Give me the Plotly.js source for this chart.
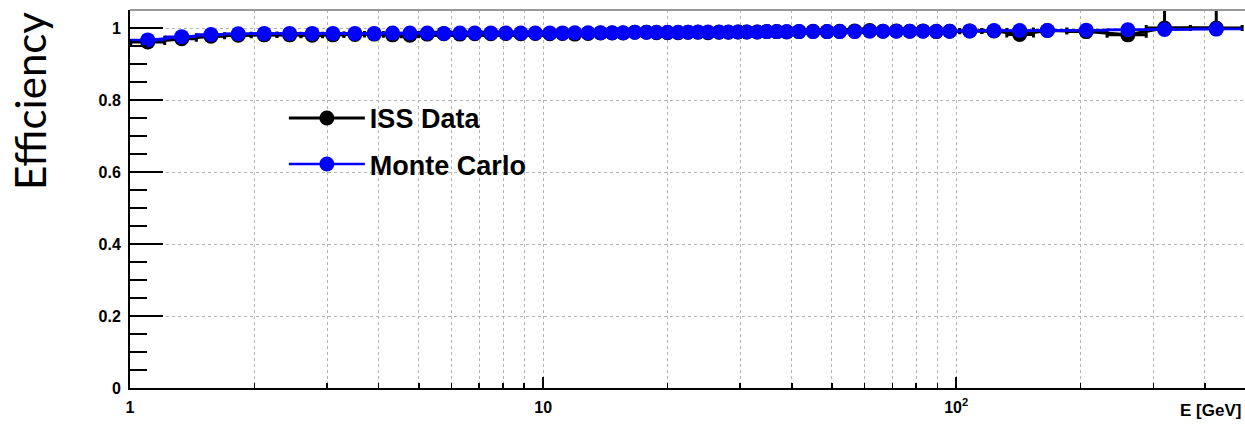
<!DOCTYPE html>
<html>
<head>
<meta charset="utf-8">
<script src="https://cdn.plot.ly/plotly-3.0.1.min.js"></script>
<style>html,body{margin:0;padding:0;background:#fff;}#chart{width:1245px;height:428px;}</style>
</head>
<body>
<div id="chart"></div>
<script>
// Energy bin centres [GeV]
const energy = [1.104, 1.334, 1.570, 1.828, 2.113, 2.435, 2.761, 3.098, 3.503, 3.900,
  4.321, 4.759, 5.241, 5.751, 6.288, 6.834, 7.472, 8.124, 8.831, 9.574,
  10.38, 11.14, 11.93, 12.85, 13.77, 14.69, 15.62, 16.67, 17.79, 18.81,
  20.0, 21.22, 22.43, 23.71, 25.07, 26.66, 28.09, 29.64, 31.12, 32.99,
  34.78, 36.77, 38.88, 41.64, 45.02, 48.68, 52.24, 56.79, 61.73, 66.48,
  71.62, 77.15, 83.08, 89.49, 96.4, 107.8, 123.4, 142.4, 166.2, 206.4,
  260.3, 319.3, 426.0];
// ISS data efficiency
const issData = [0.961, 0.970, 0.977, 0.980, 0.981, 0.981, 0.980, 0.981, 0.982, 0.983,
  0.981, 0.980, 0.983, 0.984, 0.983, 0.984, 0.984, 0.985, 0.984, 0.985,
  0.984, 0.985, 0.983, 0.985, 0.986, 0.986, 0.986, 0.988, 0.988, 0.987,
  0.987, 0.987, 0.988, 0.988, 0.987, 0.988, 0.988, 0.989, 0.989, 0.989,
  0.990, 0.990, 0.989, 0.990, 0.991, 0.990, 0.991, 0.992, 0.993, 0.991,
  0.992, 0.991, 0.992, 0.990, 0.991, 0.992, 0.992, 0.982, 0.993, 0.990,
  0.981, 1.000, 1.000];
const issErrUp = [0.003, 0.002, 0.002, 0.002, 0.002, 0.002, 0.002, 0.002, 0.002, 0.002,
  0.002, 0.002, 0.002, 0.002, 0.002, 0.002, 0.002, 0.002, 0.002, 0.002,
  0.002, 0.002, 0.002, 0.002, 0.002, 0.002, 0.002, 0.002, 0.002, 0.002,
  0.002, 0.002, 0.002, 0.002, 0.002, 0.002, 0.002, 0.002, 0.002, 0.002,
  0.002, 0.002, 0.002, 0.002, 0.002, 0.002, 0.002, 0.002, 0.002, 0.002,
  0.002, 0.002, 0.003, 0.003, 0.003, 0.003, 0.004, 0.005, 0.005, 0.006,
  0.008, 0.060, 0.060];
const issErrDown = [0.003, 0.002, 0.002, 0.002, 0.002, 0.002, 0.002, 0.002, 0.002, 0.002,
  0.002, 0.002, 0.002, 0.002, 0.002, 0.002, 0.002, 0.002, 0.002, 0.002,
  0.002, 0.002, 0.002, 0.002, 0.002, 0.002, 0.002, 0.002, 0.002, 0.002,
  0.002, 0.002, 0.002, 0.002, 0.002, 0.002, 0.002, 0.002, 0.002, 0.002,
  0.002, 0.002, 0.002, 0.002, 0.002, 0.002, 0.002, 0.002, 0.002, 0.002,
  0.002, 0.002, 0.003, 0.003, 0.003, 0.003, 0.004, 0.005, 0.005, 0.006,
  0.008, 0.010, 0.012];
// Monte Carlo efficiency
const monteCarlo = [0.967, 0.976, 0.982, 0.984, 0.985, 0.985, 0.985, 0.985, 0.985, 0.985,
  0.986, 0.986, 0.986, 0.985, 0.986, 0.986, 0.986, 0.986, 0.986, 0.986,
  0.986, 0.986, 0.987, 0.987, 0.987, 0.987, 0.987, 0.988, 0.988, 0.988,
  0.988, 0.988, 0.988, 0.989, 0.989, 0.989, 0.989, 0.989, 0.989, 0.989,
  0.990, 0.990, 0.990, 0.990, 0.990, 0.990, 0.990, 0.990, 0.991, 0.991,
  0.991, 0.991, 0.991, 0.991, 0.991, 0.992, 0.993, 0.993, 0.993, 0.994,
  0.995, 0.996, 0.997];
const seriesNames = ["ISS Data", "Monte Carlo"];
const xTickVals = [1, 10, 100];
const xTickText = ["1", "10", "10<sup>2</sup>"];
const xMinorVals = [2,3,4,5,6,7,8,9,20,30,40,50,60,70,80,90,200,300,400,500];
const yTickVals = [0, 0.2, 0.4, 0.6, 0.8, 1.0];

// bin edges (geometric midpoints) -> horizontal error bars
const n = energy.length;
const edges = [];
for (let i = 1; i < n; i++) edges.push(Math.sqrt(energy[i-1]*energy[i]));
const lo = energy.map((x, i) => i === 0 ? x*x/edges[0] : edges[i-1]);
const hi = energy.map((x, i) => i === n-1 ? x*x/edges[n-2] : edges[i]);
const exMinus = energy.map((x, i) => x - lo[i]);
const exPlus = energy.map((x, i) => hi[i] - x);

const traces = [
  {
    x: energy, y: issData, name: seriesNames[0], type: 'scatter', mode: 'lines+markers',
    line: {color: '#000000', width: 3},
    marker: {color: '#000000', size: 15, symbol: 'circle'},
    error_x: {type: 'data', symmetric: false, array: exPlus, arrayminus: exMinus, color: '#000000', thickness: 3, width: 3},
    error_y: {type: 'data', symmetric: false, array: issErrUp, arrayminus: issErrDown, color: '#000000', thickness: 3, width: 0},
    legendgroup: 'a'
  },
  {
    x: energy, y: monteCarlo, name: seriesNames[1], type: 'scatter', mode: 'lines+markers',
    line: {color: '#0000ff', width: 2.5},
    marker: {color: '#0000ff', size: 15, symbol: 'circle'},
    error_x: {type: 'data', symmetric: false, array: exPlus, arrayminus: exMinus, color: '#0000ff', thickness: 2.5, width: 0},
    legendgroup: 'b'
  }
];

const gridColor = '#b4b4b4';
const tickFont = {family: 'Liberation Sans, Arial, sans-serif', size: 16, color: '#000', weight: 'bold'};
const layout = {
  width: 1245, height: 428,
  margin: {l: 130, r: 0, t: 10, b: 40, pad: 0},
  paper_bgcolor: '#ffffff', plot_bgcolor: '#ffffff',
  showlegend: true,
  legend: {
    x: 0.138, xanchor: 'left', y: 0.778, yanchor: 'top',
    bgcolor: 'rgba(0,0,0,0)', borderwidth: 0,
    font: {family: 'Liberation Sans, Arial, sans-serif', size: 27, color: '#000', weight: 'bold'},
    itemwidth: 76, tracegroupgap: 8, traceorder: 'grouped'
  },
  xaxis: {
    type: 'log', range: [0, Math.log10(500)],
    tickmode: 'array', tickvals: xTickVals, ticktext: xTickText,
    ticks: 'inside', ticklen: 11, tickwidth: 2, tickcolor: '#000',
    ticklabelstandoff: 4,
    showline: true, linecolor: '#000', linewidth: 2,
    showgrid: true, gridcolor: gridColor, griddash: 'dot', gridwidth: 1,
    zeroline: false,
    tickfont: tickFont,
    minor: {tickmode: 'array', tickvals: xMinorVals, ticks: 'inside', ticklen: 5, tickwidth: 1.5, tickcolor: '#000',
            showgrid: true, gridcolor: gridColor, griddash: 'dot', gridwidth: 1}
  },
  yaxis: {
    range: [0, 1.05],
    tickmode: 'array', tickvals: yTickVals,
    ticks: 'inside', ticklen: 33, tickwidth: 2, tickcolor: '#000',
    ticklabelstandoff: 4,
    showline: true, linecolor: '#000', linewidth: 2,
    showgrid: true, gridcolor: gridColor, griddash: 'dot', gridwidth: 1,
    zeroline: false,
    tickfont: tickFont,
    minor: {tickmode: 'linear', tick0: 0, dtick: 0.05, ticks: 'inside', ticklen: 17, tickwidth: 1.5, tickcolor: '#000', showgrid: false}
  },
  shapes: [
    {type: 'line', xref: 'paper', yref: 'paper', x0: 0, x1: 1, y0: 1, y1: 1, line: {color: '#999999', width: 2}},
    {type: 'rect', xref: 'paper', yref: 'paper', x0: 0.1229, x1: 0.4888, y0: 0.5291, y1: 0.7831,
     fillcolor: '#ffffff', line: {width: 0}, layer: 'between'}
  ],
  annotations: [
    {text: 'Efficiency', xref: 'paper', yref: 'paper', x: -0.0897, y: 0.759, xanchor: 'center', yanchor: 'middle',
     textangle: -90, showarrow: false, font: {family: 'Lato, Open Sans, sans-serif', size: 42, color: '#000'}},
    {text: 'E [GeV]', xref: 'paper', yref: 'paper', x: 0.998, y: -0.0608, xanchor: 'right', yanchor: 'middle',
     showarrow: false, font: {family: 'Liberation Sans, Arial, sans-serif', size: 17, color: '#000', weight: 'bold'}}
  ]
};

Plotly.newPlot('chart', traces, layout, {displayModeBar: false, staticPlot: true});
</script>
</body>
</html>
